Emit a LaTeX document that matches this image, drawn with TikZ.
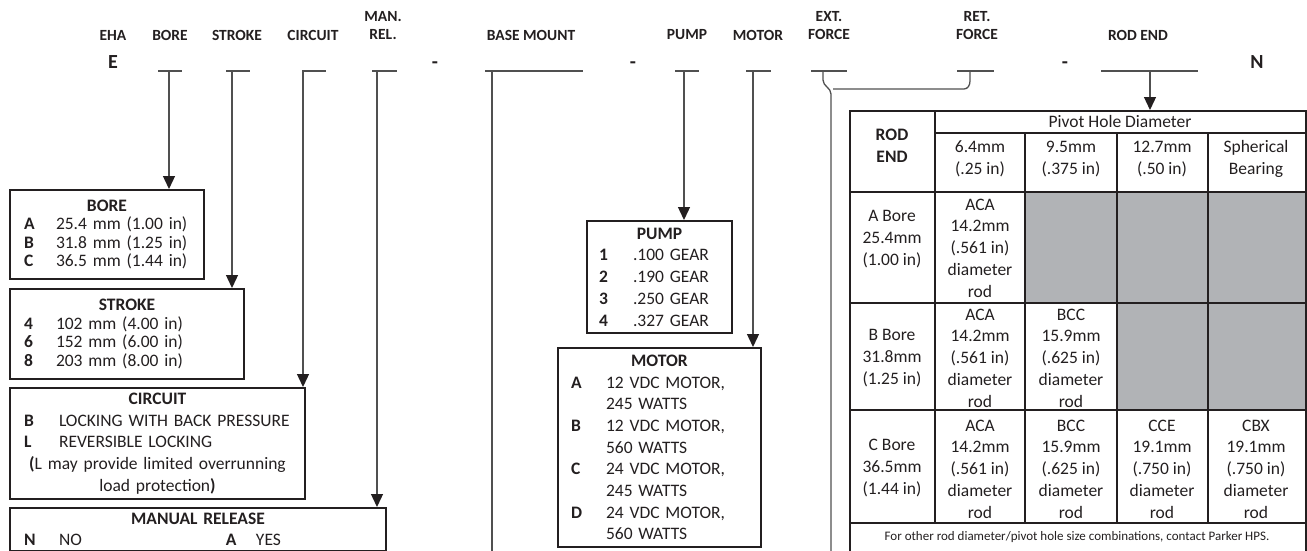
\documentclass[tikz,border=0pt]{standalone}
\usepackage{fontspec}
\setmainfont{Carlito}
\usepackage{tikz}
\usetikzlibrary{arrows.meta,positioning,calc}
\definecolor{ehaink}{RGB}{35,31,32}
\definecolor{ehaline}{RGB}{80,80,80}
\definecolor{ehashade}{RGB}{177,179,182}
\newcommand\ehaHdr{\fontsize{15.5}{18}\selectfont\bfseries}
\newcommand\ehaBig{\fontsize{20}{24}\selectfont\bfseries}
\newcommand\ehaTight{\fontsize{17.5}{18.5}\selectfont}
\newcommand\ehaItem{\fontsize{17.5}{21.7}\selectfont}
\newcommand\ehaSmall{\fontsize{13}{16}\selectfont}
\newcommand\optkey[2][35pt]{\makebox[#1][l]{\textbf{#2}}}

\begin{document}
\begin{tikzpicture}[x=1pt, y=-1pt, ehaink,
  hdr/.style={font=\ehaHdr, align=center, inner sep=0pt},
  bigcode/.style={font=\ehaBig, inner sep=0pt, anchor=base},
  optbox/.style={draw=ehaink, line width=2pt, anchor=north west, align=left,
    inner xsep=14pt, inner ysep=0pt, font=\ehaItem},
  cell/.style={font=\ehaItem, align=center, inner sep=0pt},
  grid/.style={draw=ehaink, line width=2pt},
  uline/.style={draw=ehaline, line width=1.3pt},
  conn/.style={draw=ehaline, line width=1.3pt},
  arr/.style={conn, -{Triangle[length=13pt,width=12pt,color=ehaink]}}]

\useasboundingbox (0,0) rectangle (1307,550);

% Model code header
\node[hdr] (lEha) at (113,35) {EHA};
\node[hdr] (lBore) at (170,35) {BORE};
\node[hdr] (lStroke) at (237,35) {STROKE};
\node[hdr] (lCirc) at (313,35) {CIRCUIT};
\node[hdr] (lMan) at (383,26) {MAN.\\REL.};
\node[hdr] (lBase) at (531,35) {BASE MOUNT};
\node[hdr] (lPump) at (687,35) {PUMP};
\node[hdr] (lMotor) at (758,35) {MOTOR};
\node[hdr] (lExt) at (829,26) {EXT.\\FORCE};
\node[hdr] (lRet) at (977,26) {RET.\\FORCE};
\node[hdr] (lRod) at (1138,35) {ROD END};

\node[bigcode] (codeE) at (113,68) {E};
\node[bigcode] (dash1) at (435,68) {-};
\node[bigcode] (dash2) at (633,68) {-};
\node[bigcode] (dash3) at (1065,68) {-};
\node[bigcode] (codeN) at (1257,68) {N};

% blank fields
\draw[uline] (158,71) -- (182,71);
\draw[uline] (226,71) -- (250,71);
\draw[uline] (302,71) -- (326,71);
\draw[uline] (372,71) -- (397,71);
\draw[uline] (485,71) -- (583,71);
\draw[uline] (675,71) -- (699,71);
\draw[uline] (746,71) -- (771,71);
\draw[uline] (811,71) -- (847,71);
\draw[uline] (957,71) -- (994,71);
\draw[uline] (1101,71) -- (1198,71);

\coordinate (cBore) at (169,71);
\coordinate (cStroke) at (232,71);
\coordinate (cCirc) at (303,71);
\coordinate (cMan) at (377,71);
\coordinate (cBase) at (492,71);
\coordinate (cBaseEnd) at (492,560);
\coordinate (cPump) at (684,71);
\coordinate (cMotor) at (753,71);
\coordinate (cExt) at (823,71);
\coordinate (cRet) at (970,71);
\coordinate (cJoin) at (831,94);
\coordinate (cBar) at (833,89);
\coordinate (cForceEnd) at (831,560);
\coordinate (cRod) at (1150,71);

% Option boxes
\node[optbox, font=\ehaTight, text width=166pt, minimum height=89pt] (bore) at (9,189)
  {\makebox[\hsize]{\textbf{BORE}}\\
   \optkey[32pt]{A}25.4 mm (1.00 in)\\
   \optkey[32pt]{B}31.8 mm (1.25 in)\\
   \optkey[32pt]{C}36.5 mm (1.44 in)};

\node[optbox, font=\ehaTight, text width=206pt, minimum height=90pt] (stroke) at (9,288)
  {\makebox[\hsize]{\textbf{STROKE}}\\
   \optkey[32pt]{4}102 mm (4.00 in)\\
   \optkey[32pt]{6}152 mm (6.00 in)\\
   \optkey[32pt]{8}203 mm (8.00 in)};

\node[optbox, text width=267pt, minimum height=111pt] (circuit) at (9,387)
  {\makebox[\hsize]{\textbf{CIRCUIT}}\\
   \optkey{B}LOCKING WITH BACK PRESSURE\\
   \optkey{L}REVERSIBLE LOCKING\\
   \makebox[\hsize]{\textbf{(}L may provide limited overrunning}\\
   \makebox[\hsize]{load protection\textbf{)}}};

\node[optbox, font=\fontsize{17.5}{20.5}\selectfont, text width=348pt, minimum height=43pt] (manrel) at (9,507)
  {\makebox[\hsize]{\textbf{MANUAL RELEASE}}\\
   \optkey{N}\makebox[167pt][l]{NO}\optkey[30pt]{A}YES};

\node[optbox, inner xsep=12pt, text width=121pt, minimum height=112pt] (pump) at (586,220)
  {\makebox[\hsize]{\textbf{PUMP}}\\
   \optkey[34pt]{1}.100 GEAR\\
   \optkey[34pt]{2}.190 GEAR\\
   \optkey[34pt]{3}.250 GEAR\\
   \optkey[34pt]{4}.327 GEAR};

\node[optbox, inner xsep=13pt, text width=177pt, minimum height=199pt] (motor) at (557,347)
  {\makebox[\hsize]{\textbf{MOTOR}}\\
   \optkey{A}12 VDC MOTOR,\\ \hspace*{35pt}245 WATTS\\
   \optkey{B}12 VDC MOTOR,\\ \hspace*{35pt}560 WATTS\\
   \optkey{C}24 VDC MOTOR,\\ \hspace*{35pt}245 WATTS\\
   \optkey{D}24 VDC MOTOR,\\ \hspace*{35pt}560 WATTS};

% Rod end table
\fill[ehashade] (1025,192) rectangle (1305,303);
\fill[ehashade] (1117,303) rectangle (1305,410);
\node[grid, anchor=north west, minimum width=456pt, minimum height=460pt, inner sep=0pt] (rodtab) at (849,110) {};
\draw[grid] (935,133) -- (1305,133);
\draw[grid] (849,192) -- (1305,192);
\draw[grid] (849,303) -- (1305,303);
\draw[grid] (849,410) -- (1305,410);
\draw[grid] (849,523) -- (1305,523);
\draw[grid] (935,110) -- (935,523);
\draw[grid] (1025,133) -- (1025,523);
\draw[grid] (1117,133) -- (1117,523);
\draw[grid] (1208,133) -- (1208,523);

\node[cell, font=\ehaItem\bfseries] (tRodEnd) at (892,146) {ROD\\END};
\node[cell] (tPivot) at (1120,121) {Pivot Hole Diameter};
\node[cell] (tH1) at (980,159) {6.4mm\\(.25 in)};
\node[cell] (tH2) at (1071,159) {9.5mm\\(.375 in)};
\node[cell] (tH3) at (1162,159) {12.7mm\\(.50 in)};
\node[cell] (tH4) at (1256,159) {Spherical\\Bearing};

\node[cell] (tRowA) at (892,239) {A Bore\\25.4mm\\(1.00 in)};
\node[cell] (tA1) at (980,248) {ACA\\14.2mm\\(.561 in)\\diameter\\rod};

\node[cell] (tRowB) at (892,358) {B Bore\\31.8mm\\(1.25 in)};
\node[cell] (tB1) at (980,358) {ACA\\14.2mm\\(.561 in)\\diameter\\rod};
\node[cell] (tB2) at (1071,358) {BCC\\15.9mm\\(.625 in)\\diameter\\rod};

\node[cell] (tRowC) at (892,468) {C Bore\\36.5mm\\(1.44 in)};
\node[cell] (tC1) at (980,469) {ACA\\14.2mm\\(.561 in)\\diameter\\rod};
\node[cell] (tC2) at (1071,469) {BCC\\15.9mm\\(.625 in)\\diameter\\rod};
\node[cell] (tC3) at (1162,469) {CCE\\19.1mm\\(.750 in)\\diameter\\rod};
\node[cell] (tC4) at (1256,469) {CBX\\19.1mm\\(.750 in)\\diameter\\rod};

\node[cell, font=\ehaSmall] (tNote) at (1077,537) {For other rod diameter/pivot hole size combinations, contact Parker HPS.};

% Connectors
\draw[arr] (cBore) -- (cBore |- bore.north);
\draw[arr] (cStroke) -- (cStroke |- stroke.north);
\draw[arr] (cCirc) -- (cCirc |- circuit.north);
\draw[arr] (cMan) -- (cMan |- manrel.north);
\draw[conn] (cBase) -- (cBaseEnd);
\draw[arr] (cPump) -- (cPump |- pump.north);
\draw[arr] (cMotor) -- (cMotor |- motor.north);
\draw[arr] (cRod) -- (cRod |- rodtab.north);

% Force brace
\draw[conn] (cExt) -- ++(0,9) to[out=-90,in=90] (cJoin) -- (cForceEnd);
\draw[conn] (cRet) -- ++(0,10) to[out=-90,in=0] ++(-6,8) -- (cBar);

\end{tikzpicture}
\end{document}
